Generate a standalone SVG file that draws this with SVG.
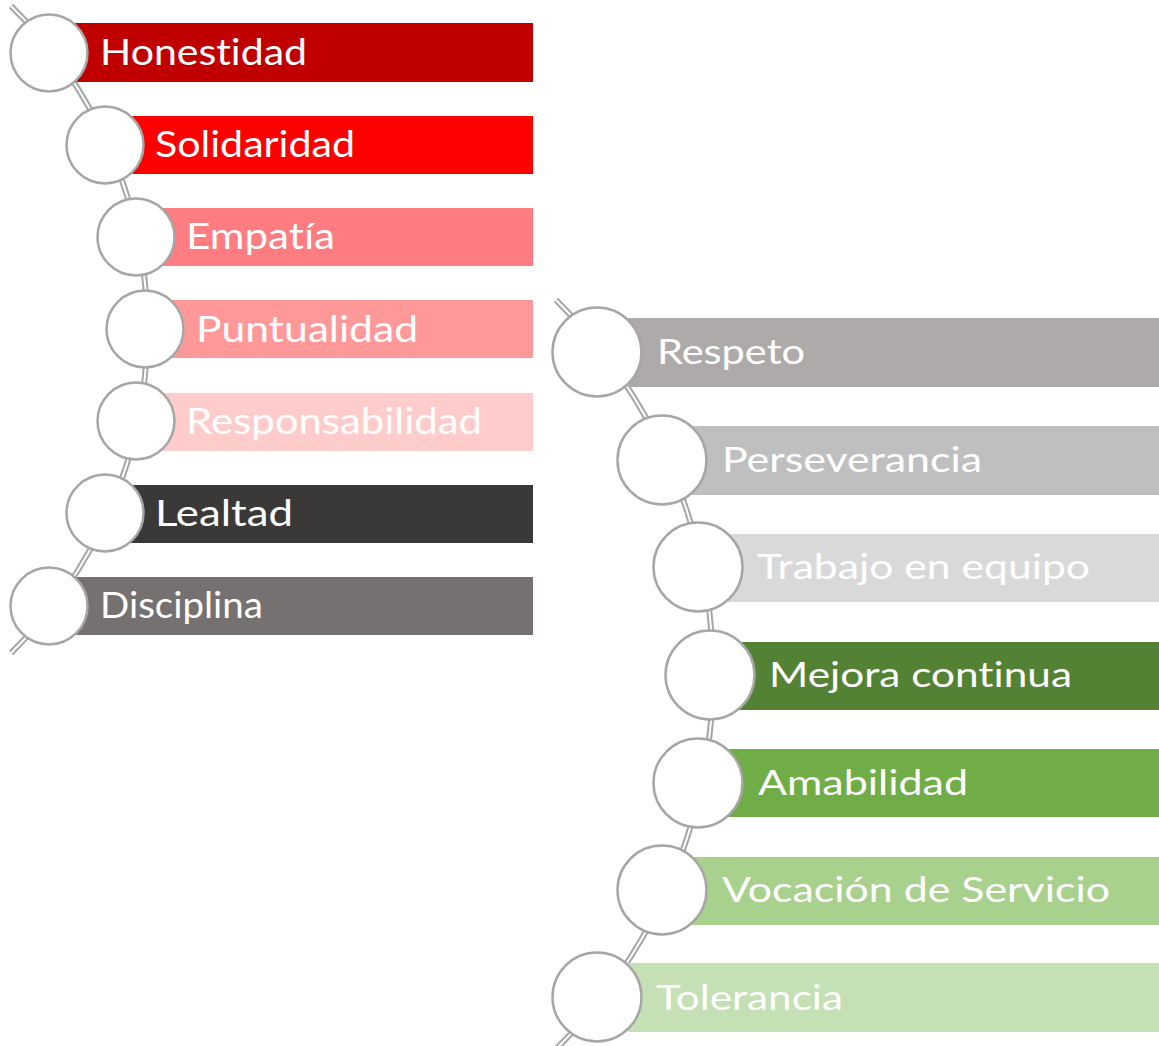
<svg xmlns="http://www.w3.org/2000/svg" width="1159" height="1046" viewBox="0 0 1159 1046">
<style>
.line-o{fill:none;stroke:#A6A6A6;stroke-width:6}
.line-i{fill:none;stroke:#FFFFFF;stroke-width:2}
.c{fill:#FFFFFF;stroke:#A6A6A6;stroke-width:2.5}
.t{font-family:"Lato","Liberation Sans",Arial,sans-serif;font-weight:400;fill:#FFFFFF;font-variant-ligatures:none}
.tl{font-size:36px}
.tr{font-size:34px}
</style>
<rect width="1159" height="1046" fill="#FFFFFF"/>
<g id="connectors">
<path class="line-o" d="M 11,6 A 452 452 0 0 1 11,653"/>
<path class="line-i" d="M 11,6 A 452 452 0 0 1 11,653"/>
<path class="line-o" d="M 556,300 A 525 525 0 0 1 556,1049"/>
<path class="line-i" d="M 556,300 A 525 525 0 0 1 556,1049"/>
</g>
<g id="honestidad"><rect x="75" y="23" width="458" height="59" fill="#C00000"/><circle class="c" cx="49" cy="53" r="38.5"/><text class="t tl" x="100" y="65" textLength="207" lengthAdjust="spacingAndGlyphs">Honestidad</text></g>
<g id="solidaridad"><rect x="130" y="116" width="403" height="58" fill="#FF0000"/><circle class="c" cx="105" cy="145" r="38.5"/><text class="t tl" x="155" y="157" textLength="200" lengthAdjust="spacingAndGlyphs">Solidaridad</text></g>
<g id="empatia"><rect x="161" y="208" width="372" height="58" fill="#FF7C80"/><circle class="c" cx="136" cy="237" r="38.5"/><text class="t tl" x="186" y="249" textLength="149" lengthAdjust="spacingAndGlyphs">Empatía</text></g>
<g id="puntualidad"><rect x="170" y="300" width="363" height="58" fill="#FF9999"/><circle class="c" cx="145" cy="329" r="38.5"/><text class="t tl" x="196" y="342" textLength="222" lengthAdjust="spacingAndGlyphs">Puntualidad</text></g>
<g id="responsabilidad"><rect x="161" y="393" width="372" height="58" fill="#FFCCCC"/><circle class="c" cx="136" cy="421" r="38.5"/><text class="t tl" x="186" y="434" textLength="296" lengthAdjust="spacingAndGlyphs">Responsabilidad</text></g>
<g id="lealtad"><rect x="130" y="485" width="403" height="58" fill="#3B3838"/><circle class="c" cx="105" cy="513" r="38.5"/><text class="t tl" x="155" y="526" textLength="138" lengthAdjust="spacingAndGlyphs">Lealtad</text></g>
<g id="disciplina"><rect x="75" y="577" width="458" height="58" fill="#767171"/><circle class="c" cx="49" cy="606" r="38.5"/><text class="t tl" x="100" y="618" textLength="163" lengthAdjust="spacingAndGlyphs">Disciplina</text></g>
<g id="respeto"><rect x="628" y="318" width="531" height="69" fill="#AEAAAA"/><circle class="c" cx="597" cy="352" r="44.5"/><text class="t tr" x="657" y="364" textLength="148" lengthAdjust="spacingAndGlyphs">Respeto</text></g>
<g id="perseverancia"><rect x="692" y="426" width="467" height="69" fill="#BFBFBF"/><circle class="c" cx="662" cy="460" r="44.5"/><text class="t tr" x="722" y="472" textLength="260" lengthAdjust="spacingAndGlyphs">Perseverancia</text></g>
<g id="trabajo"><rect x="728" y="534" width="431" height="68" fill="#D9D9D9"/><circle class="c" cx="698" cy="567" r="44.5"/><text class="t tr" x="757" y="579" textLength="333" lengthAdjust="spacingAndGlyphs">Trabajo en equipo</text></g>
<g id="mejora"><rect x="738" y="642" width="421" height="68" fill="#548235"/><circle class="c" cx="710" cy="675" r="44.5"/><text class="t tr" x="769" y="687" textLength="303" lengthAdjust="spacingAndGlyphs">Mejora continua</text></g>
<g id="amabilidad"><rect x="728" y="749" width="431" height="68" fill="#70AD47"/><circle class="c" cx="698" cy="783" r="44.5"/><text class="t tr" x="758" y="795" textLength="210" lengthAdjust="spacingAndGlyphs">Amabilidad</text></g>
<g id="vocacion"><rect x="692" y="857" width="467" height="68" fill="#A9D18E"/><circle class="c" cx="662" cy="890" r="44.5"/><text class="t tr" x="722" y="902" textLength="388" lengthAdjust="spacingAndGlyphs">Vocación de Servicio</text></g>
<g id="tolerancia"><rect x="628" y="963" width="531" height="69" fill="#C5E0B4"/><circle class="c" cx="597" cy="997" r="44.5"/><text class="t tr" x="656" y="1010" textLength="187" lengthAdjust="spacingAndGlyphs">Tolerancia</text></g>
</svg>
